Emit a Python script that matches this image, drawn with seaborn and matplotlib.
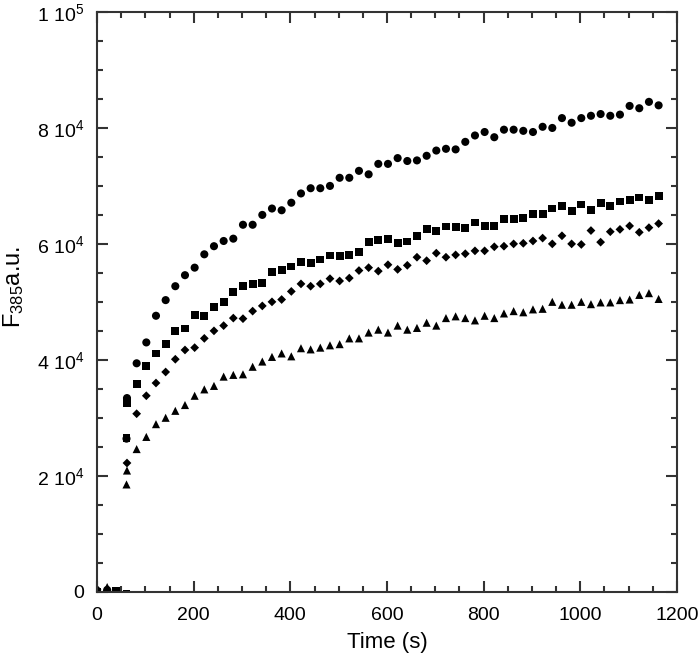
import numpy as np
import pandas as pd
import matplotlib
matplotlib.use('Agg')
import matplotlib.pyplot as plt
import seaborn as sns
from matplotlib.ticker import MultipleLocator

# sampling grid after injection (s)
t_main = np.arange(62, 1163, 20)

# fluorescence at 385 nm
circle = [33400, 39400, 43000, 47600, 50300, 52700, 54600, 55900, 58200, 59600,
          60500, 60900, 63300, 63300, 65000, 66100, 65800, 67100, 68700, 69600,
          69600, 70000, 71400, 71400, 72600, 72000, 73800, 73800, 74800, 74300,
          74400, 75200, 76100, 76400, 76300, 77600, 78700, 79300, 78400, 79700,
          79700, 79500, 79300, 80200, 80000, 81700, 80900, 81700, 82100, 82400,
          82100, 82300, 83800, 83400, 84500, 83900]
square = [32500, 35800, 39000, 41100, 42700, 44900, 45400, 47700, 47600, 49100,
          50000, 51700, 52800, 53100, 53300, 55100, 55500, 56100, 56900, 56700,
          57300, 58000, 57900, 58100, 58600, 60300, 60600, 60900, 60200, 60400,
          61400, 62600, 62200, 63000, 62900, 62800, 63700, 63100, 63100, 64300,
          64300, 64500, 65100, 65100, 66100, 66500, 65700, 66800, 65900, 67000,
          66500, 67300, 67500, 68000, 67600, 68200]
diamond = [22200, 30700, 33800, 36000, 37900, 40100, 41700, 42100, 43700, 45000,
           45900, 47200, 47100, 48400, 49300, 50000, 50400, 51800, 53100, 52700,
           53100, 54000, 53600, 54100, 55400, 55900, 55300, 56400, 55600, 56300,
           57700, 57100, 58400, 57700, 58100, 58300, 58800, 58800, 59500, 59600,
           60000, 60100, 60500, 61000, 60000, 61400, 60000, 59900, 62300, 60300,
           62100, 62500, 63100, 62000, 62800, 63500]
triangle = [20900, 24600, 26700, 28900, 30000, 31200, 32200, 33800, 34900, 35500,
            37100, 37400, 37500, 38800, 39700, 40500, 41100, 40600, 42000, 41800,
            42100, 42500, 42700, 43700, 43700, 44700, 45200, 44700, 45900, 45200,
            45500, 46400, 45900, 47200, 47500, 47200, 46800, 47600, 47200, 48000,
            48400, 48200, 48700, 48800, 50000, 49500, 49500, 50000, 49600, 49900,
            49900, 50300, 50400, 51200, 51500, 50500]

# points before / during the jump
circle_t0, circle_v0 = [0, 21, 61], [0, 300, 26400]
square_t0, square_v0 = [0, 40, 61, 61], [0, 200, -300, 26500]
diamond_t0, diamond_v0 = [0, 20, 40], [400, 0, 0]
triangle_t0, triangle_v0 = [0, 21, 61], [0, 800, 18500]

frames = []
for name, t0, v0, v in [('circle', circle_t0, circle_v0, circle),
                        ('square', square_t0, square_v0, square),
                        ('diamond', diamond_t0, diamond_v0, diamond),
                        ('triangle', triangle_t0, triangle_v0, triangle)]:
    frames.append(pd.DataFrame({'time': list(t0) + list(t_main),
                                'F': list(v0) + list(v),
                                'series': name}))
df = pd.concat(frames, ignore_index=True)

sns.set_style('ticks')
plt.rcParams['font.family'] = ['Liberation Sans', 'DejaVu Sans']
plt.rcParams['mathtext.fontset'] = 'custom'
plt.rcParams['mathtext.rm'] = 'Liberation Sans'
plt.rcParams['mathtext.it'] = 'Liberation Sans:italic'
plt.rcParams['text.color'] = 'black'
plt.rcParams['axes.labelcolor'] = 'black'

fig = plt.figure(figsize=(6.99, 6.60), dpi=100)
ax = fig.add_axes([0.1388, 0.1035, 0.8297, 0.8783])

markers = {'circle': 'o', 'square': 's', 'diamond': 'D', 'triangle': '^'}
sizes = {'circle': 34, 'square': 32, 'diamond': 20, 'triangle': 34}
for name, m in markers.items():
    sub = df[df['series'] == name]
    sns.scatterplot(data=sub, x='time', y='F', marker=m, s=sizes[name],
                    color='black', edgecolor='none', linewidth=0, ax=ax,
                    legend=False)

ax.set_xlim(0, 1200)
ax.set_ylim(0, 100000)
ax.set_xticks([0, 200, 400, 600, 800, 1000, 1200])
ax.set_yticks([0, 20000, 40000, 60000, 80000, 100000])
ax.set_yticklabels(['0', r'2 10$^4$', r'4 10$^4$', r'6 10$^4$', r'8 10$^4$', r'1 10$^5$'])
ax.xaxis.set_minor_locator(MultipleLocator(50))
ax.yaxis.set_minor_locator(MultipleLocator(5000))
ax.tick_params(which='both', direction='in', top=True, right=True,
               width=1.5, color='#333333', labelcolor='black', labelsize=14)
ax.tick_params(axis='x', which='both', pad=11)
ax.tick_params(axis='y', which='both', pad=9)
ax.tick_params(which='major', length=8)
ax.tick_params(which='minor', length=4)
for sp in ax.spines.values():
    sp.set_linewidth(1.5)
    sp.set_color('#333333')

ax.set_xlabel('Time (s)', fontsize=16)
ax.set_ylabel(r'F$_{385}$a.u.', fontsize=17)
ax.xaxis.set_label_coords(0.5, -0.07)
ax.yaxis.set_label_coords(-0.122, 0.525)

fig.savefig('out.png', dpi=100)
